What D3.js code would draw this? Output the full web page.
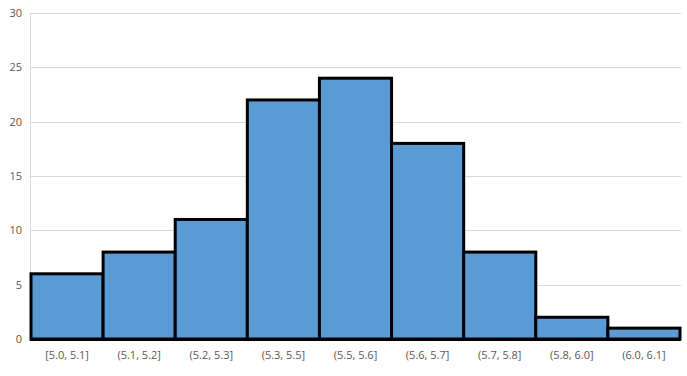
<!DOCTYPE html>
<html lang="en">
<head>
<meta charset="UTF-8">
<title>Histogram</title>
<script src="https://d3js.org/d3.v7.min.js"></script>
<style>
  body { margin: 0; background: #fff; }
  text { font-family: "Open Sans", "Liberation Sans", sans-serif; }
</style>
</head>
<body>
<script>
var categories = ["[5.0, 5.1]", "(5.1, 5.2]", "(5.2, 5.3]", "(5.3, 5.5]", "(5.5, 5.6]",
                  "(5.6, 5.7]", "(5.7, 5.8]", "(5.8, 6.0]", "(6.0, 6.1]"];
var counts = [6, 8, 11, 22, 24, 18, 8, 2, 1];
var yTicks = [0, 5, 10, 15, 20, 25, 30];

var w = 687, h = 376;
var plotLeft = 31, plotRight = 680, plotTop = 13, plotBottom = 339;

var svg = d3.select("body").append("svg")
    .attr("width", w)
    .attr("height", h);

var x = d3.scaleBand().domain(categories).range([plotLeft, plotRight]).padding(0);
var y = d3.scaleLinear().domain([0, 30]).range([plotBottom, plotTop]);

// gridlines
svg.append("g")
    .selectAll("line")
    .data(yTicks)
    .enter()
    .append("line")
    .attr("x1", 30)
    .attr("x2", 681)
    .attr("y1", function (d) { return Math.round(y(d)) + 0.5; })
    .attr("y2", function (d) { return Math.round(y(d)) + 0.5; })
    .attr("stroke", "#d9d9d9")
    .attr("stroke-width", 1);

// left axis line
svg.append("line")
    .attr("x1", 30.5).attr("x2", 30.5)
    .attr("y1", plotTop).attr("y2", plotBottom)
    .attr("stroke", "#d9d9d9");

// y labels
svg.append("g")
    .selectAll("text")
    .data(yTicks)
    .enter()
    .append("text")
    .attr("x", 22)
    .attr("y", function (d) { return y(d) + 4; })
    .attr("text-anchor", "end")
    .attr("font-size", "11px")
    .attr("fill", "#595959")
    .text(function (d) { return d; });

// bars
svg.append("g")
    .selectAll("rect")
    .data(counts)
    .enter()
    .append("rect")
    .attr("x", function (d, i) { return x(categories[i]); })
    .attr("y", function (d) { return y(d); })
    .attr("width", x.bandwidth())
    .attr("height", function (d) { return y(0) - y(d); })
    .attr("fill", "#5b9bd5")
    .attr("stroke", "#000")
    .attr("stroke-width", 3);

// x axis line
svg.append("line")
    .attr("x1", 30).attr("x2", 681)
    .attr("y1", plotBottom + 1.5).attr("y2", plotBottom + 1.5)
    .attr("stroke", "#000")
    .attr("stroke-width", 1);

// x labels
svg.append("g")
    .selectAll("text")
    .data(categories)
    .enter()
    .append("text")
    .attr("x", function (d) { return x(d) + x.bandwidth() / 2; })
    .attr("y", 359)
    .attr("text-anchor", "middle")
    .attr("font-size", "11px")
    .attr("fill", "#595959")
    .text(function (d) { return d; });
</script>
</body>
</html>
